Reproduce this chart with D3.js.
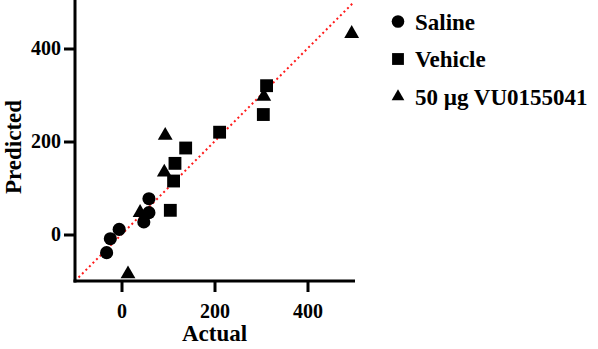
<!DOCTYPE html>
<html>
<head>
<meta charset="utf-8">
<script src="https://cdn.jsdelivr.net/npm/d3@7"></script>
<style>
  body { margin: 0; background: #fff; }
  svg text { font-family: "Liberation Serif", "Times New Roman", serif; font-weight: bold; fill: #000; }
</style>
</head>
<body>
<svg id="chart" width="598" height="349"></svg>
<script>
// data (actual, predicted)
var salineX = [-32, -24, -5, 48, 59, 59];
var salineY = [-39, -9, 11, 27, 47, 77];
var vehicleX = [105, 112, 115, 138, 211, 305, 312];
var vehicleY = [52, 115, 153, 186, 220, 258, 320];
var drugX = [14, 40, 92, 94, 306, 495];
var drugY = [-85, 47, 134, 213, 297, 432];
var tickVals = [0, 200, 400];
var groups = ['Saline', 'Vehicle', '50 \u00b5g VU0155041'];

var serif = '"Liberation Serif", "Times New Roman", serif';
var svg = d3.select('#chart');
var x = d3.scaleLinear().domain([-100, 500]).range([75, 354]);
var y = d3.scaleLinear().domain([-100, 500]).range([281, 2]);

// identity line
svg.append('line')
  .attr('x1', x(-100)).attr('y1', y(-100))
  .attr('x2', x(500)).attr('y2', y(500))
  .attr('stroke', '#ff1a1a').attr('stroke-width', 2)
  .attr('stroke-dasharray', '2,3');

// axes
var gx = svg.append('g').attr('transform', 'translate(0,' + y(-100) + ')')
  .call(d3.axisBottom(x).tickValues(tickVals).tickSize(11).tickSizeOuter(0).tickPadding(12));
var gy = svg.append('g').attr('transform', 'translate(' + x(-100) + ',0)')
  .call(d3.axisLeft(y).tickValues(tickVals).tickSize(11).tickSizeOuter(0).tickPadding(3));
[gx, gy].forEach(function (g) {
  g.attr('font-family', null).attr('font-size', null);
  g.select('.domain').attr('stroke', '#000').attr('stroke-width', 3);
  g.selectAll('.tick line').attr('stroke', '#000').attr('stroke-width', 3);
  g.selectAll('.tick text').style('font-family', serif)
    .style('font-weight', 'bold').style('font-size', '20px').attr('fill', '#000');
});
gy.select('.domain').attr('d', 'M0,' + (y(500) - 2) + 'V' + (y(-100) + 1.5));
gx.select('.domain').attr('d', 'M' + (x(-100) - 1.5) + ',0H' + (x(500) + 1));

// axis titles
svg.append('text').attr('x', (x(-100) + x(500)) / 2).attr('y', 341)
  .attr('text-anchor', 'middle').style('font-family', serif).style('font-size', '23px').text('Actual');
svg.append('text').attr('transform', 'translate(21,' + 147 + ') rotate(-90)')
  .attr('text-anchor', 'middle').style('font-family', serif).style('font-size', '23px').text('Predicted');

// points
var shapes = [d3.symbolCircle, d3.symbolSquare, d3.symbolTriangle];
var sizes = [135, 165, 95];
var sets = [[salineX, salineY], [vehicleX, vehicleY], [drugX, drugY]];
sets.forEach(function (s, k) {
  svg.append('g').selectAll('path').data(s[0]).enter().append('path')
    .attr('d', d3.symbol().type(shapes[k]).size(sizes[k]))
    .attr('transform', function (d, i) { return 'translate(' + x(d) + ',' + y(s[1][i]) + ')'; })
    .attr('fill', '#000');
});

// legend
var legSizes = [125, 140, 70];
var leg = svg.append('g').selectAll('g').data(groups).enter().append('g')
  .attr('transform', function (d, i) { return 'translate(398,' + (21.5 + i * 37.5) + ')'; });
leg.append('path')
  .attr('d', function (d, i) { return d3.symbol().type(shapes[i]).size(legSizes[i])(); })
  .attr('fill', '#000');
leg.append('text').attr('x', 17).attr('dy', '0.35em')
  .style('font-family', serif).style('font-size', '23px').text(function (d) { return d; });
</script>
</body>
</html>
